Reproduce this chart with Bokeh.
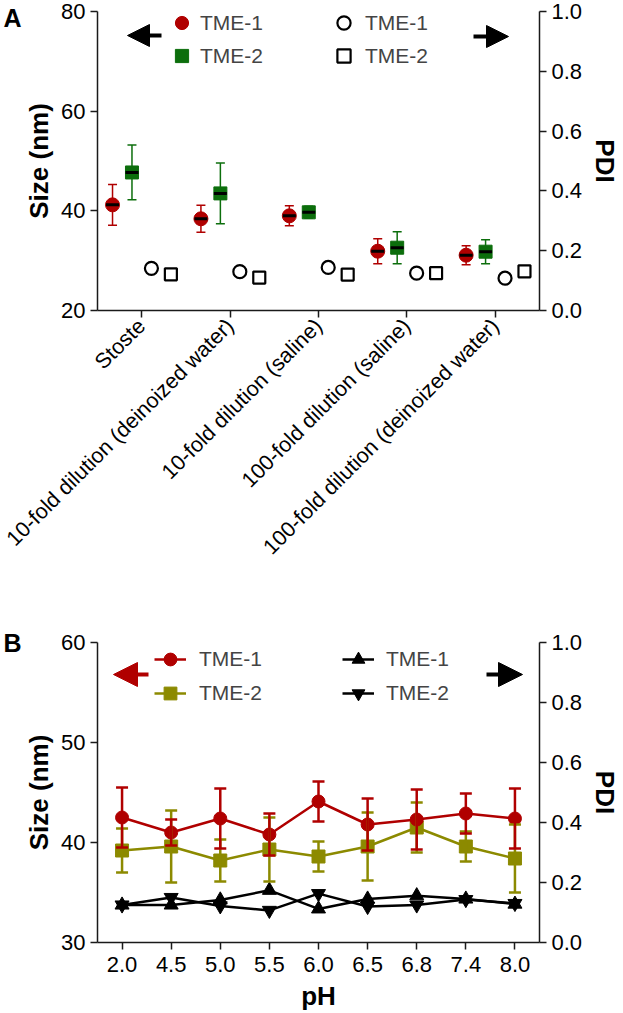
import math
from bokeh.plotting import figure
from bokeh.layouts import column
from bokeh.models import (ColumnDataSource, FactorRange, Range1d, LinearAxis, FixedTicker,
                          Whisker, TeeHead, Legend, LegendItem, Arrow, NormalHead,
                          NumeralTickFormatter)
from bokeh.transform import dodge
from bokeh.embed import file_html
from bokeh.resources import INLINE

FONT = "Liberation Sans"
RED = "#b00000"
GREEN = "#0c6e0c"
OLIVE = "#8c8a00"
AXC = "#1a1a1a"

# ---------------- Panel A data ----------------
conditions = ["Stoste", "10-fold dilution (deinoized water)", "10-fold dilution (saline)",
              "100-fold dilution (saline)", "100-fold dilution (deinoized water)"]
size_tme1 = [41.2, 38.4, 39.0, 31.9, 31.1]
size_tme1_sd = [4.1, 2.7, 2.0, 2.5, 1.9]
size_tme2 = [47.7, 43.5, 39.7, 32.6, 31.8]
size_tme2_sd = [5.5, 6.1, 1.2, 3.2, 2.4]
pdi_tme1 = [0.141, 0.130, 0.144, 0.125, 0.108]
pdi_tme2 = [0.121, 0.110, 0.120, 0.125, 0.131]
size_ticks_a = [20, 40, 60, 80]
pdi_ticks = [0.0, 0.2, 0.4, 0.6, 0.8, 1.0]

# ---------------- Panel B data ----------------
ph_labels = ["2.0", "4.5", "5.0", "5.5", "6.0", "6.5", "6.8", "7.4", "8.0"]
ph_size_tme1 = [42.5, 41.0, 42.4, 40.8, 44.1, 41.8, 42.3, 42.9, 42.4]
ph_size_tme1_sd = [3.0, 1.3, 3.0, 2.1, 2.0, 2.6, 3.0, 2.0, 3.0]
ph_size_tme2 = [39.2, 39.6, 38.2, 39.3, 38.6, 39.6, 41.5, 39.6, 38.4]
ph_size_tme2_sd = [2.2, 3.6, 2.1, 3.2, 1.5, 3.4, 2.5, 1.5, 3.4]
ph_pdi_tme1 = [0.125, 0.125, 0.142, 0.174, 0.112, 0.145, 0.156, 0.145, 0.128]
ph_pdi_tme2 = [0.125, 0.150, 0.122, 0.107, 0.163, 0.120, 0.125, 0.143, 0.130]
size_ticks_b = [30, 40, 50, 60]


def style_axis(ax, title_size="26px"):
    ax.axis_line_color = AXC
    ax.axis_line_width = 1.5
    ax.major_tick_line_color = AXC
    ax.major_tick_line_width = 1.5
    ax.major_tick_out = 7
    ax.major_tick_in = 0
    ax.minor_tick_out = 0
    ax.minor_tick_in = 0
    ax.major_label_text_font = FONT
    ax.major_label_text_font_size = "22px"
    ax.major_label_text_color = "black"
    ax.major_label_standoff = 5
    ax.axis_label_text_font = FONT
    ax.axis_label_text_font_style = "bold"
    ax.axis_label_text_font_size = title_size
    ax.axis_label_text_color = "black"


def base_fig(factors, yr, height, top, bottom):
    p = figure(width=623, height=height, x_range=FactorRange(factors=factors),
               y_range=yr, output_backend="svg", toolbar_location=None,
               min_border_left=96, min_border_right=83, min_border_top=top,
               min_border_bottom=bottom)
    p.outline_line_color = None
    p.xgrid.visible = False
    p.ygrid.visible = False
    p.background_fill_color = "white"
    p.border_fill_color = "white"
    p.extra_y_ranges = {"pdi": Range1d(0, 1)}
    right = LinearAxis(y_range_name="pdi", ticker=FixedTicker(ticks=pdi_ticks),
                       formatter=NumeralTickFormatter(format="0.0"), axis_label="PDI")
    p.add_layout(right, "right")
    style_axis(p.xaxis[0])
    style_axis(p.yaxis[0])
    style_axis(right)
    p.yaxis[0].axis_label_standoff = 4
    right.axis_label_standoff = 5
    return p


def add_letter(p, tick, text):
    # panel letter drawn as the only tick label of an outer, line-less left axis
    ax = LinearAxis(ticker=FixedTicker(ticks=[tick]), major_label_overrides={tick: text})
    ax.axis_line_color = None
    ax.major_tick_line_color = None
    ax.major_tick_out = 0
    ax.major_tick_in = 0
    ax.minor_tick_line_color = None
    ax.major_label_standoff = 0
    ax.major_label_text_font = FONT
    ax.major_label_text_font_style = "bold"
    ax.major_label_text_font_size = "25px"
    ax.major_label_text_color = "black"
    p.add_layout(ax, "left")


def legend(p, items, x, y, gw, gh, spacing, standoff):
    lg = Legend(items=items, location=(x, y), orientation="vertical",
                border_line_color=None, background_fill_alpha=0, padding=0, margin=0,
                spacing=spacing, glyph_width=gw, glyph_height=gh, label_standoff=standoff,
                label_text_font=FONT, label_text_font_size="21px", label_height=gh)
    p.add_layout(lg)
    return lg


def arrow(p, xs, xe, y, color, size):
    p.add_layout(Arrow(end=NormalHead(size=size, fill_color=color, line_color=color, line_width=1),
                       x_start=xs, y_start=y, x_end=xe, y_end=y,
                       start_units="screen", end_units="screen",
                       line_color=color, line_width=4))


# ================= Panel A =================
pA = base_fig(conditions, Range1d(20, 80), 582, 11, 272)
pA.yaxis[0].ticker = FixedTicker(ticks=size_ticks_a)
pA.yaxis[0].axis_label = "Size (nm)"
pA.xaxis[0].major_label_orientation = math.pi / 4
pA.xaxis[0].major_label_standoff = 5
pA.xaxis[0].major_label_text_font_size = "21.5px"
add_letter(pA, size_ticks_a[-1], "A")

src_a = ColumnDataSource(dict(
    cond=conditions,
    s1=size_tme1, s1_up=[m + s for m, s in zip(size_tme1, size_tme1_sd)],
    s1_lo=[m - s for m, s in zip(size_tme1, size_tme1_sd)],
    s2=size_tme2, s2_up=[m + s for m, s in zip(size_tme2, size_tme2_sd)],
    s2_lo=[m - s for m, s in zip(size_tme2, size_tme2_sd)],
    p1=pdi_tme1, p2=pdi_tme2))

off = [-0.33, -0.11, 0.11, 0.33]
for o, up, lo, col in [(off[0], "s1_up", "s1_lo", RED), (off[1], "s2_up", "s2_lo", GREEN)]:
    pA.add_layout(Whisker(source=src_a, base=dodge("cond", o, range=pA.x_range), upper=up, lower=lo,
                          line_color=col, line_width=1.5,
                          upper_head=TeeHead(size=9, line_color=col, line_width=1.5),
                          lower_head=TeeHead(size=9, line_color=col, line_width=1.5)))

rA1 = pA.scatter(x=dodge("cond", off[0], range=pA.x_range), y="s1", source=src_a,
                 marker="circle", size=14, fill_color=RED, line_color=RED)
rA2 = pA.scatter(x=dodge("cond", off[1], range=pA.x_range), y="s2", source=src_a,
                 marker="square", size=13, fill_color=GREEN, line_color=GREEN)
pA.scatter(x=dodge("cond", off[0], range=pA.x_range), y="s1", source=src_a,
           marker="dash", size=13, line_color="black", line_width=3)
pA.scatter(x=dodge("cond", off[1], range=pA.x_range), y="s2", source=src_a,
           marker="dash", size=13, line_color="black", line_width=3)
rA3 = pA.scatter(x=dodge("cond", off[2], range=pA.x_range), y="p1", source=src_a,
                 y_range_name="pdi", marker="circle", size=13, fill_color="white",
                 line_color="black", line_width=2.2)
rA4 = pA.scatter(x=dodge("cond", off[3], range=pA.x_range), y="p2", source=src_a,
                 y_range_name="pdi", marker="square", size=12, fill_color="white",
                 line_color="black", line_width=2.2)

# legend location = (left, bottom) in px from the frame's bottom-left corner
legend(pA, [LegendItem(label="TME-1", renderers=[rA1]), LegendItem(label="TME-2", renderers=[rA2])],
       68, 238, 33, 33, 0, 2)
legend(pA, [LegendItem(label="TME-1", renderers=[rA3]), LegendItem(label="TME-2", renderers=[rA4])],
       230, 238, 33, 33, 0, 5)
arrow(pA, 64, 30, 275, "black", 22)
arrow(pA, 376, 411, 274, "black", 22)

# ================= Panel B =================
pB = base_fig(ph_labels, Range1d(30, 60), 431, 60, 71)
pB.yaxis[0].ticker = FixedTicker(ticks=size_ticks_b)
pB.yaxis[0].axis_label = "Size (nm)"
pB.xaxis[0].axis_label = "pH"
pB.xaxis[0].major_label_standoff = 7
pB.xaxis[0].axis_label_standoff = 6
add_letter(pB, size_ticks_b[-1], "B")

src_b = ColumnDataSource(dict(
    ph=ph_labels,
    s1=ph_size_tme1, s1_up=[m + s for m, s in zip(ph_size_tme1, ph_size_tme1_sd)],
    s1_lo=[m - s for m, s in zip(ph_size_tme1, ph_size_tme1_sd)],
    s2=ph_size_tme2, s2_up=[m + s for m, s in zip(ph_size_tme2, ph_size_tme2_sd)],
    s2_lo=[m - s for m, s in zip(ph_size_tme2, ph_size_tme2_sd)],
    p1=ph_pdi_tme1, p2=ph_pdi_tme2))

# PDI lines
lB3 = pB.line(x="ph", y="p1", source=src_b, y_range_name="pdi", line_color="black", line_width=2.5)
lB4 = pB.line(x="ph", y="p2", source=src_b, y_range_name="pdi", line_color="black", line_width=2.5)
mB3 = pB.scatter(x="ph", y="p1", source=src_b, y_range_name="pdi", marker="triangle",
                 size=14, color="black")
mB4 = pB.scatter(x="ph", y="p2", source=src_b, y_range_name="pdi", marker="inverted_triangle",
                 size=14, color="black")

# size series: olive first, then red on top
pB.add_layout(Whisker(source=src_b, base="ph", upper="s2_up", lower="s2_lo", level="glyph",
                      line_color=OLIVE, line_width=2.5,
                      upper_head=TeeHead(size=12, line_color=OLIVE, line_width=2.5),
                      lower_head=TeeHead(size=12, line_color=OLIVE, line_width=2.5)))
lB2 = pB.line(x="ph", y="s2", source=src_b, line_color=OLIVE, line_width=2.5)
mB2 = pB.scatter(x="ph", y="s2", source=src_b, marker="square", size=13, color=OLIVE)
pB.add_layout(Whisker(source=src_b, base="ph", upper="s1_up", lower="s1_lo", level="glyph",
                      line_color=RED, line_width=2.5,
                      upper_head=TeeHead(size=12, line_color=RED, line_width=2.5),
                      lower_head=TeeHead(size=12, line_color=RED, line_width=2.5)))
lB1 = pB.line(x="ph", y="s1", source=src_b, line_color=RED, line_width=2.5)
mB1 = pB.scatter(x="ph", y="s1", source=src_b, marker="circle", size=13, color=RED)

legend(pB, [LegendItem(label="TME-1", renderers=[lB1, mB1]), LegendItem(label="TME-2", renderers=[lB2, mB2])],
       57, 233, 32, 32, 2, 13)
legend(pB, [LegendItem(label="TME-1", renderers=[lB3, mB3]), LegendItem(label="TME-2", renderers=[lB4, mB4])],
       245, 233, 32, 32, 2, 12)
arrow(pB, 51, 16, 268, RED, 24)
arrow(pB, 389, 425, 268, "black", 24)

layout = column(pA, pB)
open("out.html", "w").write(file_html(layout, INLINE))
